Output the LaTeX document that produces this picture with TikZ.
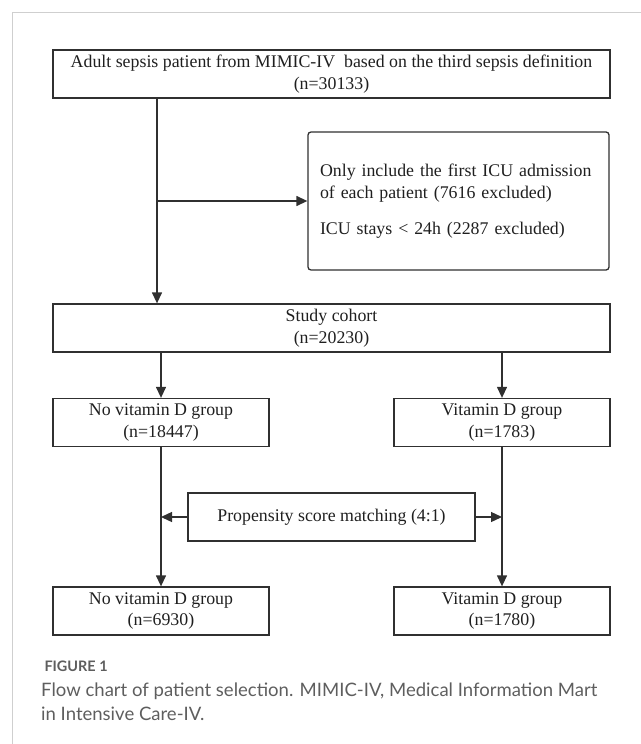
\documentclass[tikz,border=0pt]{standalone}
\usepackage{fontspec}
\setmainfont{Liberation Serif}
\newfontfamily\captionfont{Lato}
\usetikzlibrary{arrows.meta, positioning}
\definecolor{FCline}{HTML}{303030}
\definecolor{FCframe}{HTML}{CFCFCF}
\definecolor{FCcap}{HTML}{5E5E5E}
\tikzset{
  fcbox/.style={draw=FCline, line width=1.3bp, align=center, inner sep=0pt,
    minimum height=48bp, text=black!88, font=\fontsize{17.9}{22}\selectfont},
  fcline/.style={draw=FCline, line width=1.3bp},
  fcarrow/.style={fcline, -{Triangle[length=11bp, width=10bp]}}
}
\begin{document}
\begin{tikzpicture}[x=1bp, y=-1bp]
  \useasboundingbox (0,0) rectangle (641,744);
  % Outer frame
  \draw[FCframe, line width=1bp] (641,13) -- (12,13) -- (12,744);
  % Boxes
  \node[fcbox, minimum width=557bp] (sepsis) at (331.5,74)
    {Adult sepsis patient from MIMIC-IV\ \ based on the third sepsis definition\\(n=30133)};
  \node[fcbox, rounded corners=3bp, minimum width=301bp, minimum height=138bp,
    align=left, text width=277bp] (excl) at (458.5,201)
    {Only include the first ICU admission\\of each patient (7616 excluded)\\[14bp]ICU stays < 24h (2287 excluded)};
  \node[fcbox, minimum width=557bp] (cohort) at (331.5,328) {Study cohort\\(n=20230)};
  \node[fcbox, minimum width=216bp] (novd) at (161,422.5) {No vitamin D group\\(n=18447)};
  \node[fcbox, minimum width=216bp] (vd) at (502,422.5) {Vitamin D group\\(n=1783)};
  \node[fcbox, minimum width=287bp] (psm) at (331.5,517) {Propensity score matching (4:1)};
  \node[fcbox, minimum width=216bp] (novdm) at (161,611) {No vitamin D group\\(n=6930)};
  \node[fcbox, minimum width=216bp] (vdm) at (502,611) {Vitamin D group\\(n=1780)};
  % Connectors
  \coordinate (split) at (157,201);
  \draw[fcline] (sepsis.south -| split) -- (split);
  \draw[fcarrow] (split) -- (cohort.north -| split);
  \draw[fcarrow] (split) -- (excl.west);
  \draw[fcarrow] (cohort.south -| novd.north) -- (novd.north);
  \draw[fcarrow] (cohort.south -| vd.north) -- (vd.north);
  \draw[fcarrow] (novd) -- (novdm);
  \draw[fcarrow] (vd) -- (vdm);
  \draw[fcarrow] (psm.west) -- (psm.west -| novd.south);
  \draw[fcarrow] (psm.east) -- (psm.east -| vd.south);
  % Caption
  \node[anchor=west, text=FCcap, font=\captionfont\bfseries\fontsize{14.5}{17}\selectfont] (figlabel) at (41,666) {FIGURE 1};
  \node[anchor=west, align=left, inner sep=0pt, text=FCcap, font=\captionfont\fontsize{18.6}{24}\selectfont] (figcaption) at (41,702)
    {Flow chart of patient selection. MIMIC-IV, Medical Information Mart\\in Intensive Care-IV.};
\end{tikzpicture}
\end{document}
